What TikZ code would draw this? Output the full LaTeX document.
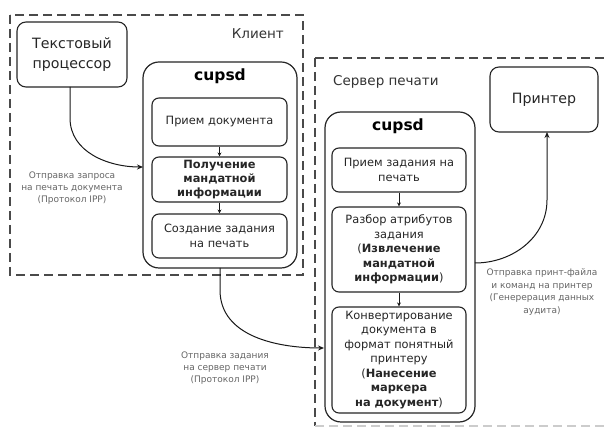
\documentclass[tikz,border=0pt]{standalone}
\usepackage{fontspec}
\setmainfont{DejaVu Sans}
\usetikzlibrary{arrows.meta}
\definecolor{dashgray}{HTML}{4A4A4A}
\definecolor{labgray}{HTML}{666666}
\tikzset{
  region/.style={draw=dashgray, line width=1.3pt, dash pattern=on 9pt off 5pt},
  bigbox/.style={draw=black!85, line width=1.2pt, rounded corners=16pt},
  inbox/.style={draw=black!85, line width=1.1pt, rounded corners=7pt, align=center,
     inner sep=0pt, font=\fontsize{11.4}{14.5}\selectfont, text=black!85},
  endbox/.style={draw=black!85, line width=1.1pt, rounded corners=9pt, align=center,
     inner sep=0pt, font=\fontsize{14.2}{20}\selectfont, text=black!85},
  lab/.style={align=center, text=labgray, font=\fontsize{9}{12.4}\selectfont, inner sep=0pt},
  title/.style={font=\fontsize{13.5}{16}\selectfont, text=black!80, inner sep=0pt},
  cups/.style={font=\bfseries\fontsize{15.5}{18}\selectfont, inner sep=0pt},
  flow/.style={line width=1pt, draw=black!90, -{Stealth[length=6pt,width=5pt]}},
  small/.style={line width=0.9pt, draw=black!90, -{Stealth[length=4pt,width=4pt]}}
}
\begin{document}
\begin{tikzpicture}[x=1pt,y=-1pt]
\useasboundingbox (0,0) rectangle (606,427);
\fill[white] (0,0) rectangle (606,427);
% regions
\draw[region] (10,15) rectangle (303,275);
\draw[region] (315,58) -- (620,58);
\draw[region] (315,58) -- (315,426);
\draw[region, draw=black!20] (315,426) -- (620,426);
\node[title, anchor=east] (klient) at (284,34) {Клиент};
\node[title, anchor=west] (server) at (333,82) {Сервер печати};
% text processor
\node[endbox, minimum width=110pt, minimum height=65pt] (tp) at (72,54.5) {Текстовый\\процессор};
% client cupsd
\draw[bigbox] (143,62) rectangle (297,268);
\node[cups] (cupsA) at (220,76) {cupsd};
\node[inbox, minimum width=135pt, minimum height=48pt] (a1) at (219.5,122) {Прием документа};
\node[inbox, minimum width=135pt, minimum height=45pt, font=\bfseries\fontsize{11.4}{14}\selectfont] (a2) at (219.5,179.5) {Получение\\мандатной\\информации};
\node[inbox, minimum width=135pt, minimum height=44pt] (a3) at (219.5,236) {Создание задания\\на печать};
\draw[small] (a1) -- (a2);
\draw[small] (a2) -- (a3);
% server cupsd
\draw[bigbox] (325,112) rectangle (475,422);
\node[cups] (cupsB) at (398,126) {cupsd};
\node[inbox, minimum width=134pt, minimum height=44pt] (b1) at (399,170) {Прием задания на\\печать};
\node[inbox, minimum width=134pt, minimum height=85pt] (b2) at (399,249.5) {Разбор атрибутов\\задания\\(\textbf{Извлечение}\\\textbf{мандатной}\\\textbf{информации})};
\node[inbox, minimum width=134pt, minimum height=106pt] (b3) at (399,360) {Конвертирование\\документа в\\формат понятный\\принтеру\\(\textbf{Нанесение}\\\textbf{маркера}\\\textbf{на документ})};
\draw[small] (b1) -- (b2);
\draw[small] (b2) -- (b3);
% printer
\node[endbox, minimum width=108pt, minimum height=65pt] (pr) at (544,99.5) {Принтер};
% connectors
\coordinate (c1s) at (70,87);
\coordinate (c1e) at (143,167);
\draw[flow] (c1s) -- (70,118) to[out=-90,in=180] (c1e);
\coordinate (c2s) at (220,268);
\coordinate (c2e) at (324,348);
\draw[flow] (c2s) -- (220,290) to[out=-90,in=180] (c2e);
\coordinate (c3s) at (475,263);
\coordinate (c3e) at (547,132);
\draw[flow] (c3s) to[out=0,in=-90] (547,200) -- (c3e);
% labels
\node[lab] (l1) at (72,188) {Отправка запроса\\на печать документа\\(Протокол IPP)};
\node[lab] (l2) at (225,368) {Отправка задания\\на сервер печати\\(Протокол IPP)};
\node[lab] (l3) at (542,292) {Отправка принт-файла\\и команд на принтер\\(Генерерация данных\\аудита)};
\end{tikzpicture}
\end{document}
